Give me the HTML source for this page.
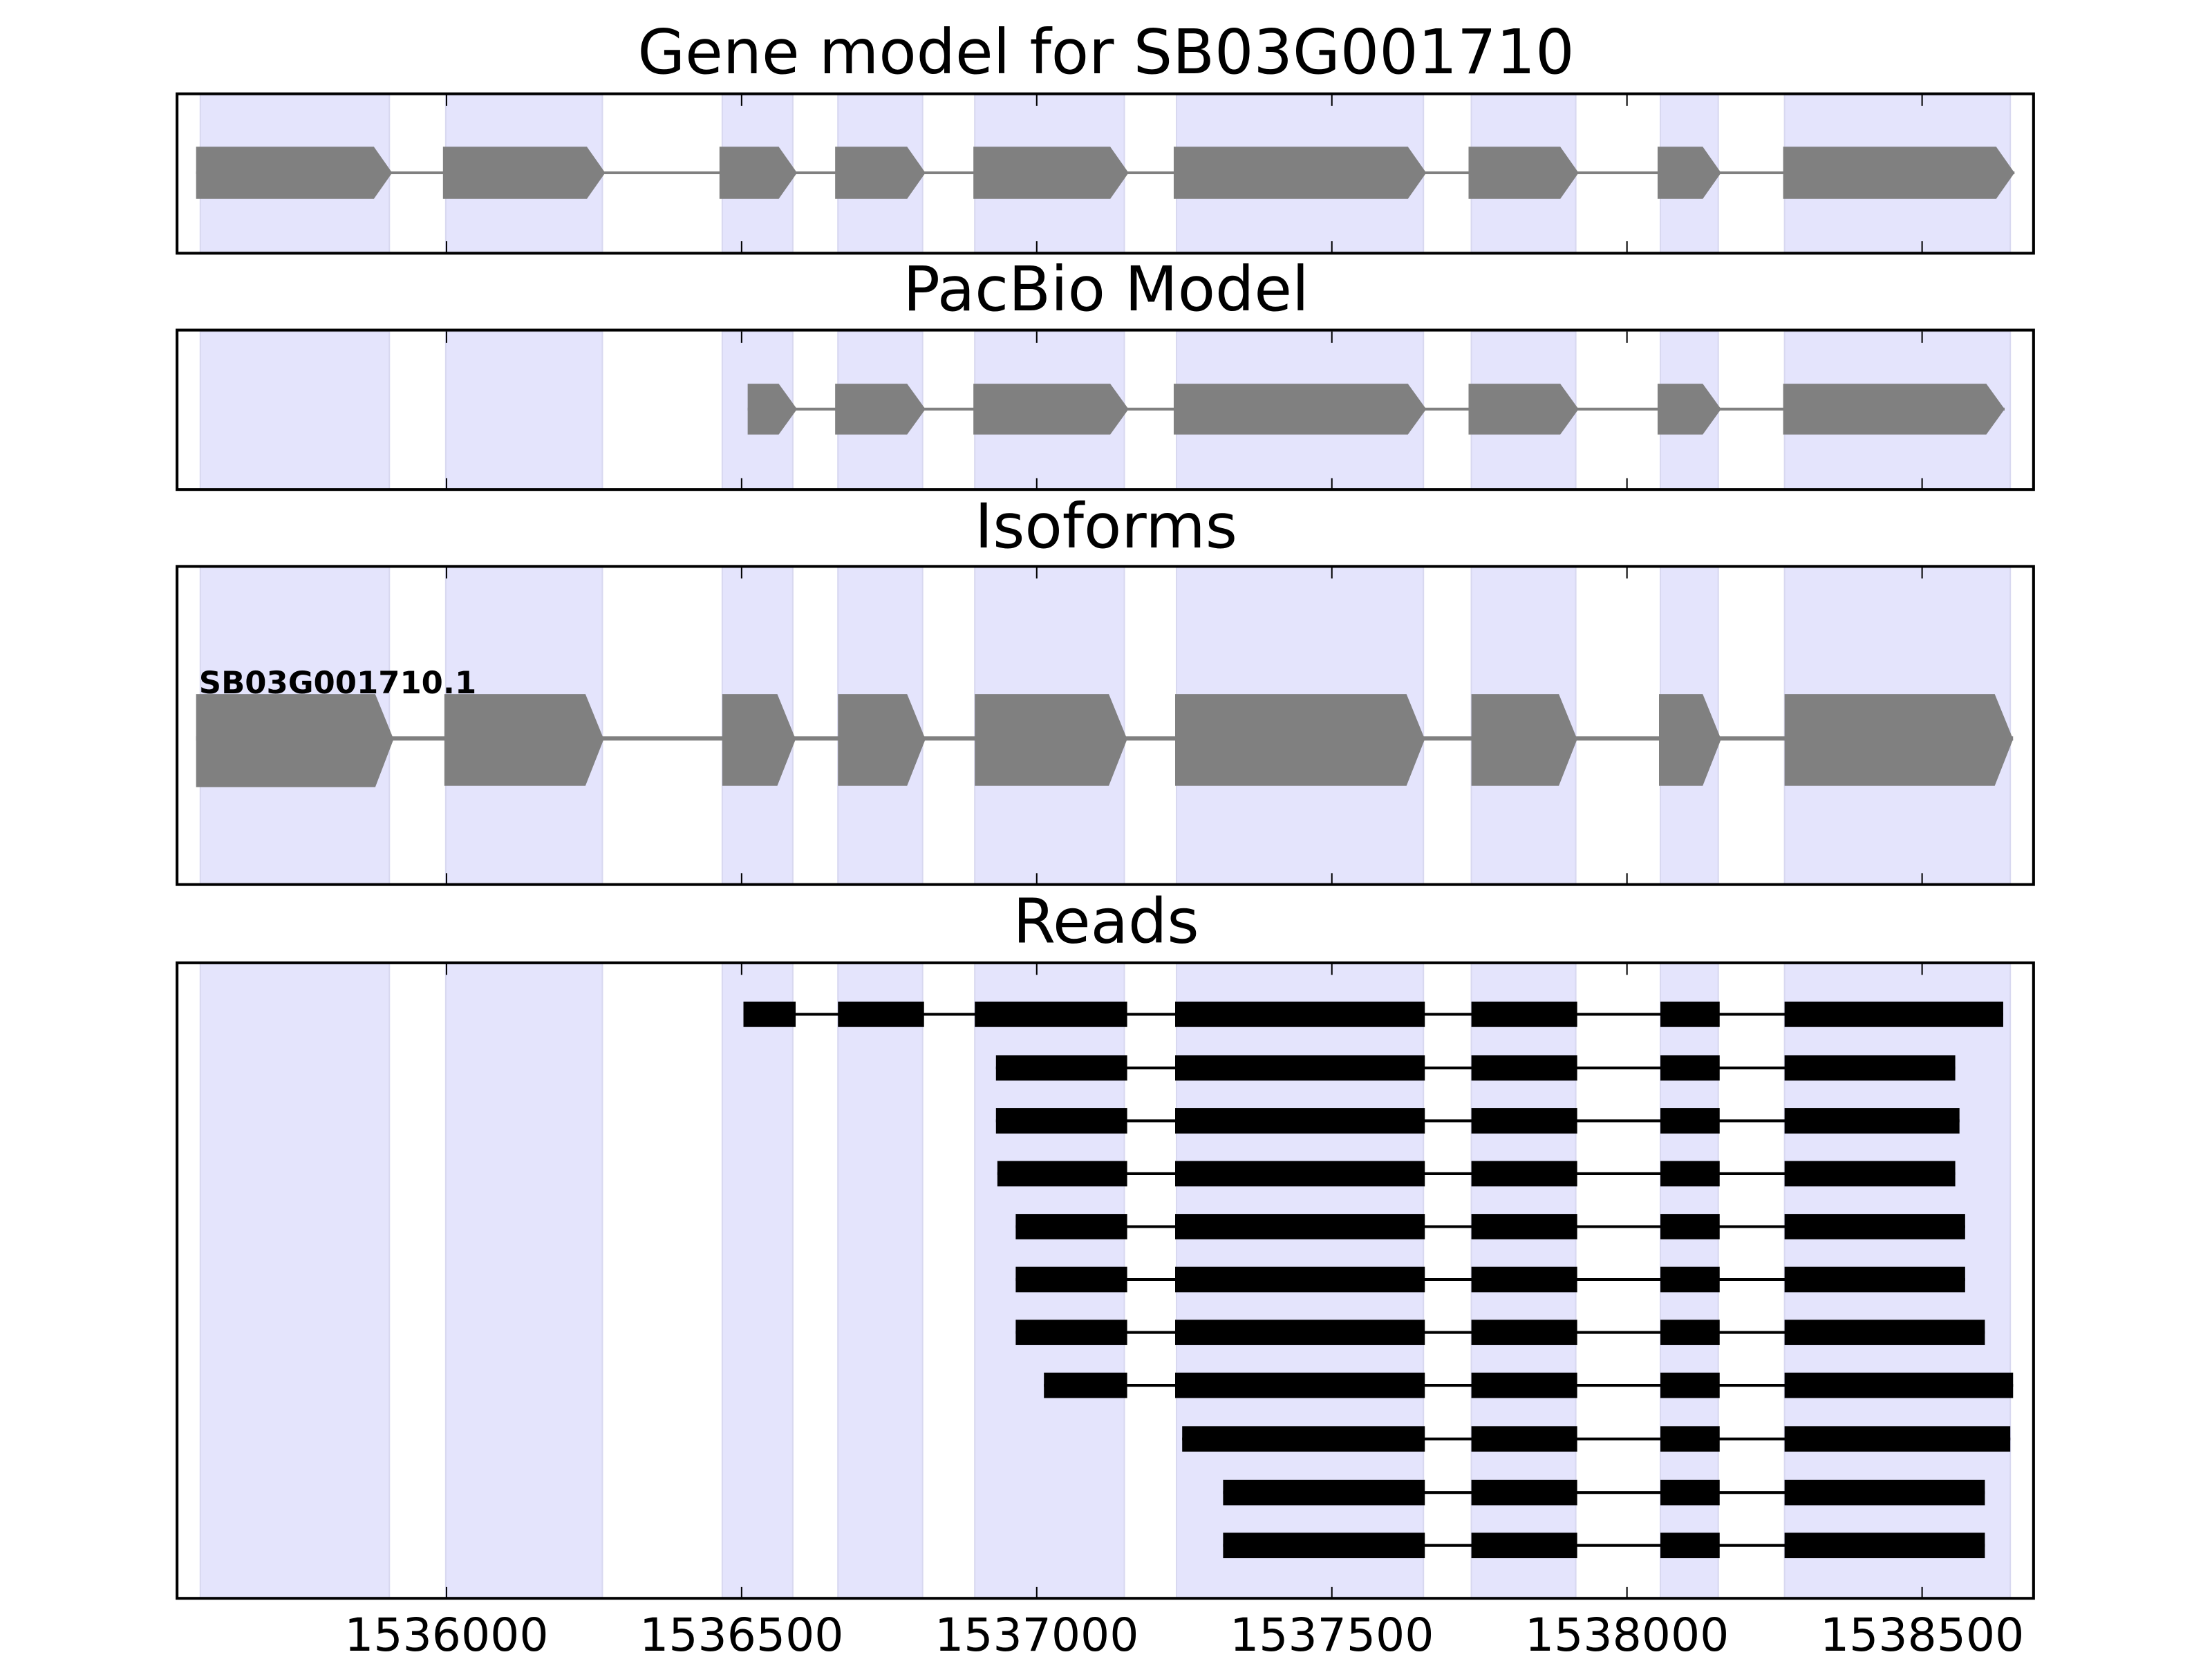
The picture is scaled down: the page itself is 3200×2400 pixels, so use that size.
<!DOCTYPE html>
<html><head><meta charset="utf-8"><style>
html,body{margin:0;padding:0;background:#fff;}
svg{display:block;}
text{font-family:"DejaVu Sans","Liberation Sans",sans-serif;fill:#000;}
</style></head><body>
<svg width="3200" height="2400" viewBox="0 0 1568 1176" xmlns="http://www.w3.org/2000/svg">

<!-- Titles -->
<text x="784" y="52" font-size="43.5" text-anchor="middle">Gene model for SB03G001710</text>
<text x="784" y="220" font-size="43.5" text-anchor="middle">PacBio Model</text>
<text x="784" y="388" font-size="43.5" text-anchor="middle">Isoforms</text>
<text x="784" y="668" font-size="43.5" text-anchor="middle">Reads</text>

<!-- Panel 1 -->
<g fill="#e4e4fc" stroke="#d8d8f0" stroke-width="1">
<rect x="142" y="67" width="134" height="112"/><rect x="316" y="67" width="111" height="112"/>
<rect x="512" y="67" width="50" height="112"/><rect x="594" y="67" width="60" height="112"/>
<rect x="691" y="67" width="106" height="112"/><rect x="834" y="67" width="175" height="112"/>
<rect x="1043" y="67" width="74" height="112"/><rect x="1177" y="67" width="41" height="112"/>
<rect x="1265" y="67" width="160" height="112"/>
</g>
<line x1="139" y1="122.5" x2="1428" y2="122.5" stroke="#808080" stroke-width="2"/>
<g fill="#808080">
<polygon points="139,104 265,104 278,122.5 265,141 139,141"/>
<polygon points="314,104 416,104 429,122.5 416,141 314,141"/>
<polygon points="510,104 552,104 565,122.5 552,141 510,141"/>
<polygon points="592,104 643,104 656,122.5 643,141 592,141"/>
<polygon points="690,104 787,104 800,122.5 787,141 690,141"/>
<polygon points="832,104 998,104 1011,122.5 998,141 832,141"/>
<polygon points="1041,104 1106,104 1119,122.5 1106,141 1041,141"/>
<polygon points="1175,104 1207,104 1220,122.5 1207,141 1175,141"/>
<polygon points="1264,104 1415,104 1428,122.5 1415,141 1264,141"/>
</g>
<rect x="125.5" y="66.5" width="1316" height="113" fill="none" stroke="#000" stroke-width="2"/>

<!-- Panel 2 -->
<g fill="#e4e4fc" stroke="#d8d8f0" stroke-width="1">
<rect x="142" y="235" width="134" height="112"/><rect x="316" y="235" width="111" height="112"/>
<rect x="512" y="235" width="50" height="112"/><rect x="594" y="235" width="60" height="112"/>
<rect x="691" y="235" width="106" height="112"/><rect x="834" y="235" width="175" height="112"/>
<rect x="1043" y="235" width="74" height="112"/><rect x="1177" y="235" width="41" height="112"/>
<rect x="1265" y="235" width="160" height="112"/>
</g>
<line x1="530" y1="290" x2="1421" y2="290" stroke="#808080" stroke-width="2"/>
<g fill="#808080">
<polygon points="530,272 552,272 565,290 552,308 530,308"/>
<polygon points="592,272 643,272 656,290 643,308 592,308"/>
<polygon points="690,272 787,272 800,290 787,308 690,308"/>
<polygon points="832,272 998,272 1011,290 998,308 832,308"/>
<polygon points="1041,272 1106,272 1119,290 1106,308 1041,308"/>
<polygon points="1175,272 1207,272 1220,290 1207,308 1175,308"/>
<polygon points="1264,272 1408,272 1421,290 1408,308 1264,308"/>
</g>
<rect x="125.5" y="234" width="1316" height="113" fill="none" stroke="#000" stroke-width="2"/>

<!-- Panel 3 -->
<g fill="#e4e4fc" stroke="#d8d8f0" stroke-width="1">
<rect x="142" y="402" width="134" height="225"/><rect x="316" y="402" width="111" height="225"/>
<rect x="512" y="402" width="50" height="225"/><rect x="594" y="402" width="60" height="225"/>
<rect x="691" y="402" width="106" height="225"/><rect x="834" y="402" width="175" height="225"/>
<rect x="1043" y="402" width="74" height="225"/><rect x="1177" y="402" width="41" height="225"/>
<rect x="1265" y="402" width="160" height="225"/>
</g>
<line x1="139" y1="523.5" x2="1427" y2="523.5" stroke="#808080" stroke-width="3"/>
<g fill="#808080">
<polygon points="139,492 266,492 279,524 266,558 139,558"/>
<polygon points="315,492 415,492 428,524 415,557 315,557"/>
<polygon points="512,492 551,492 564,524 551,557 512,557"/>
<polygon points="594,492 643,492 656,524 643,557 594,557"/>
<polygon points="691,492 786,492 799,524 786,557 691,557"/>
<polygon points="833,492 997,492 1010,524 997,557 833,557"/>
<polygon points="1043,492 1105,492 1118,524 1105,557 1043,557"/>
<polygon points="1176,492 1207,492 1220,524 1207,557 1176,557"/>
<polygon points="1265,492 1414,492 1427,524 1414,557 1265,557"/>
</g>
<text x="141" y="491.5" font-size="22" font-weight="bold">SB03G001710.1</text>
<rect x="125.5" y="401.5" width="1316" height="225.5" fill="none" stroke="#000" stroke-width="2"/>

<!-- Panel 4 -->
<g fill="#e4e4fc" stroke="#d8d8f0" stroke-width="1">
<rect x="142" y="683" width="134" height="450"/><rect x="316" y="683" width="111" height="450"/>
<rect x="512" y="683" width="50" height="450"/><rect x="594" y="683" width="60" height="450"/>
<rect x="691" y="683" width="106" height="450"/><rect x="834" y="683" width="175" height="450"/>
<rect x="1043" y="683" width="74" height="450"/><rect x="1177" y="683" width="41" height="450"/>
<rect x="1265" y="683" width="160" height="450"/>
</g>
<g stroke="#000" stroke-width="2">
<line x1="527" y1="719" x2="1420" y2="719"/>
<line x1="706" y1="757" x2="1386" y2="757"/>
<line x1="706" y1="794.5" x2="1389" y2="794.5"/>
<line x1="707" y1="832" x2="1386" y2="832"/>
<line x1="720" y1="869.5" x2="1393" y2="869.5"/>
<line x1="720" y1="907" x2="1393" y2="907"/>
<line x1="720" y1="944.5" x2="1407" y2="944.5"/>
<line x1="740" y1="982" x2="1427" y2="982"/>
<line x1="838" y1="1020" x2="1425" y2="1020"/>
<line x1="867" y1="1058" x2="1407" y2="1058"/>
<line x1="867" y1="1095.5" x2="1407" y2="1095.5"/>
</g>
<g fill="#000">
<rect x="527" y="710" width="37" height="18"/><rect x="594" y="710" width="61" height="18"/>
<rect x="691" y="710" width="108" height="18"/><rect x="833" y="710" width="177" height="18"/>
<rect x="1043" y="710" width="75" height="18"/><rect x="1177" y="710" width="42" height="18"/>
<rect x="1265" y="710" width="155" height="18"/>
<rect x="706" y="748" width="93" height="18"/><rect x="833" y="748" width="177" height="18"/>
<rect x="1043" y="748" width="75" height="18"/><rect x="1177" y="748" width="42" height="18"/>
<rect x="1265" y="748" width="121" height="18"/>
<rect x="706" y="785.5" width="93" height="18"/><rect x="833" y="785.5" width="177" height="18"/>
<rect x="1043" y="785.5" width="75" height="18"/><rect x="1177" y="785.5" width="42" height="18"/>
<rect x="1265" y="785.5" width="124" height="18"/>
<rect x="707" y="823" width="92" height="18"/><rect x="833" y="823" width="177" height="18"/>
<rect x="1043" y="823" width="75" height="18"/><rect x="1177" y="823" width="42" height="18"/>
<rect x="1265" y="823" width="121" height="18"/>
<rect x="720" y="860.5" width="79" height="18"/><rect x="833" y="860.5" width="177" height="18"/>
<rect x="1043" y="860.5" width="75" height="18"/><rect x="1177" y="860.5" width="42" height="18"/>
<rect x="1265" y="860.5" width="128" height="18"/>
<rect x="720" y="898" width="79" height="18"/><rect x="833" y="898" width="177" height="18"/>
<rect x="1043" y="898" width="75" height="18"/><rect x="1177" y="898" width="42" height="18"/>
<rect x="1265" y="898" width="128" height="18"/>
<rect x="720" y="935.5" width="79" height="18"/><rect x="833" y="935.5" width="177" height="18"/>
<rect x="1043" y="935.5" width="75" height="18"/><rect x="1177" y="935.5" width="42" height="18"/>
<rect x="1265" y="935.5" width="142" height="18"/>
<rect x="740" y="973" width="59" height="18"/><rect x="833" y="973" width="177" height="18"/>
<rect x="1043" y="973" width="75" height="18"/><rect x="1177" y="973" width="42" height="18"/>
<rect x="1265" y="973" width="162" height="18"/>
<rect x="838" y="1011" width="172" height="18"/>
<rect x="1043" y="1011" width="75" height="18"/><rect x="1177" y="1011" width="42" height="18"/>
<rect x="1265" y="1011" width="160" height="18"/>
<rect x="867" y="1049" width="143" height="18"/>
<rect x="1043" y="1049" width="75" height="18"/><rect x="1177" y="1049" width="42" height="18"/>
<rect x="1265" y="1049" width="142" height="18"/>
<rect x="867" y="1086.5" width="143" height="18"/>
<rect x="1043" y="1086.5" width="75" height="18"/><rect x="1177" y="1086.5" width="42" height="18"/>
<rect x="1265" y="1086.5" width="142" height="18"/>
</g>
<rect x="125.5" y="682.5" width="1316" height="450.5" fill="none" stroke="#000" stroke-width="2"/>

<!-- Ticks -->
<g stroke="#000" stroke-width="1">
<path d="M316.5,67v8M525.7,67v8M734.9,67v8M944.1,67v8M1153.3,67v8M1362.5,67v8
M316.5,179v-8M525.7,179v-8M734.9,179v-8M944.1,179v-8M1153.3,179v-8M1362.5,179v-8
M316.5,235v8M525.7,235v8M734.9,235v8M944.1,235v8M1153.3,235v8M1362.5,235v8
M316.5,347v-8M525.7,347v-8M734.9,347v-8M944.1,347v-8M1153.3,347v-8M1362.5,347v-8
M316.5,402v8M525.7,402v8M734.9,402v8M944.1,402v8M1153.3,402v8M1362.5,402v8
M316.5,627v-8M525.7,627v-8M734.9,627v-8M944.1,627v-8M1153.3,627v-8M1362.5,627v-8
M316.5,683v8M525.7,683v8M734.9,683v8M944.1,683v8M1153.3,683v8M1362.5,683v8
M316.5,1133v-8M525.7,1133v-8M734.9,1133v-8M944.1,1133v-8M1153.3,1133v-8M1362.5,1133v-8"/>
</g>
<g font-size="32.5" text-anchor="middle">
<text x="316.5" y="1170">1536000</text>
<text x="525.7" y="1170">1536500</text>
<text x="734.9" y="1170">1537000</text>
<text x="944.1" y="1170">1537500</text>
<text x="1153.3" y="1170">1538000</text>
<text x="1362.5" y="1170">1538500</text>
</g>
</svg>
</body></html>
